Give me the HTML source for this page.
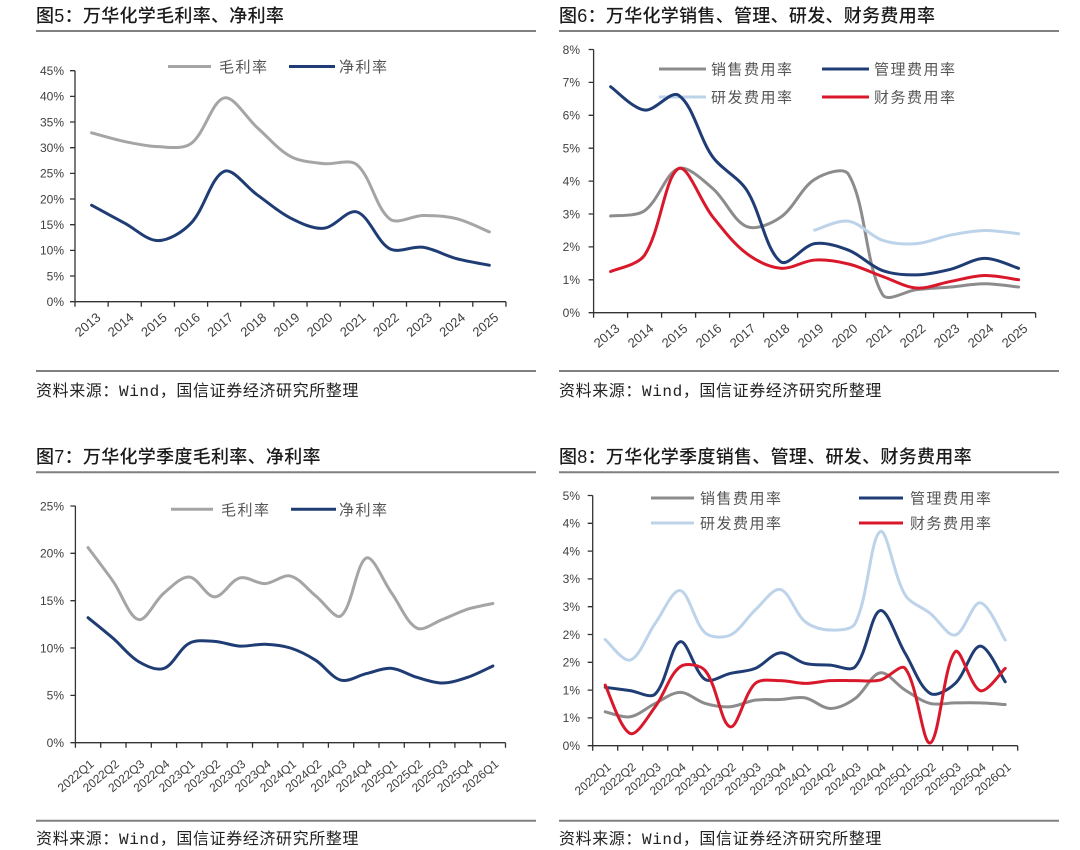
<!DOCTYPE html>
<html>
<head>
<meta charset="utf-8">
<style>
html,body{margin:0;padding:0;background:#fff;}
svg{display:block;}
.t{font-family:"Liberation Sans","Noto Sans CJK SC",sans-serif;font-size:18px;font-weight:500;fill:#1a1a1a;letter-spacing:0.3px;}
.src{font-family:"Liberation Sans","Noto Sans CJK SC",sans-serif;font-size:16px;fill:#222;letter-spacing:0.6px;}
.yl{font-family:"Liberation Sans",sans-serif;font-size:12px;fill:#404040;text-anchor:end;}
.xl{font-family:"Liberation Sans",sans-serif;font-size:13px;fill:#404040;text-anchor:end;}
.xq{font-family:"Liberation Sans",sans-serif;font-size:12px;fill:#404040;text-anchor:end;}
.lg{font-family:"Liberation Sans","Noto Sans CJK SC",sans-serif;font-size:15px;fill:#555;letter-spacing:1.5px;}
.ax{stroke:#333;stroke-width:1.3;fill:none;}
.sep{stroke:#808080;stroke-width:2;}
.s{fill:none;stroke-width:3;stroke-linejoin:round;stroke-linecap:round;}
</style>
</head>
<body>
<svg width="1080" height="850" viewBox="0 0 1080 850" xmlns="http://www.w3.org/2000/svg">

<!-- ================= CHART 1 ================= -->
<text class="t" x="36" y="22">图5：万华化学毛利率、净利率</text>
<line class="sep" x1="36" y1="31" x2="536" y2="31"/>

<g>
<text class="yl" x="64" y="306">0%</text>
<text class="yl" x="64" y="280.3">5%</text>
<text class="yl" x="64" y="254.7">10%</text>
<text class="yl" x="64" y="229">15%</text>
<text class="yl" x="64" y="203.3">20%</text>
<text class="yl" x="64" y="177.7">25%</text>
<text class="yl" x="64" y="152">30%</text>
<text class="yl" x="64" y="126.3">35%</text>
<text class="yl" x="64" y="100.7">40%</text>
<text class="yl" x="64" y="75">45%</text>
</g>
<path class="ax" d="M75,70.7V301.7H506 M70,301.7h5 M70,276h5 M70,250.4h5 M70,224.7h5 M70,199h5 M70,173.4h5 M70,147.7h5 M70,122h5 M70,96.4h5 M70,70.7h5
M75,301.7v5 M108.15,301.7v5 M141.3,301.7v5 M174.45,301.7v5 M207.6,301.7v5 M240.75,301.7v5 M273.9,301.7v5 M307.05,301.7v5 M340.2,301.7v5 M373.35,301.7v5 M406.5,301.7v5 M439.65,301.7v5 M472.8,301.7v5 M505.95,301.7v5"/>
<g>
<text class="xl" x="101.6" y="318.8" transform="rotate(-40 101.6 318.8)">2013</text>
<text class="xl" x="134.7" y="318.8" transform="rotate(-40 134.7 318.8)">2014</text>
<text class="xl" x="167.9" y="318.8" transform="rotate(-40 167.9 318.8)">2015</text>
<text class="xl" x="201" y="318.8" transform="rotate(-40 201 318.8)">2016</text>
<text class="xl" x="234.2" y="318.8" transform="rotate(-40 234.2 318.8)">2017</text>
<text class="xl" x="267.3" y="318.8" transform="rotate(-40 267.3 318.8)">2018</text>
<text class="xl" x="300.5" y="318.8" transform="rotate(-40 300.5 318.8)">2019</text>
<text class="xl" x="333.6" y="318.8" transform="rotate(-40 333.6 318.8)">2020</text>
<text class="xl" x="366.8" y="318.8" transform="rotate(-40 366.8 318.8)">2021</text>
<text class="xl" x="399.9" y="318.8" transform="rotate(-40 399.9 318.8)">2022</text>
<text class="xl" x="433.1" y="318.8" transform="rotate(-40 433.1 318.8)">2023</text>
<text class="xl" x="466.2" y="318.8" transform="rotate(-40 466.2 318.8)">2024</text>
<text class="xl" x="499.4" y="318.8" transform="rotate(-40 499.4 318.8)">2025</text>
</g>
<line x1="168" y1="66.5" x2="211" y2="66.5" stroke="#a5a5a5" stroke-width="3"/>
<text class="lg" x="219" y="72">毛利率</text>
<line x1="289" y1="66.5" x2="335" y2="66.5" stroke="#1f3d74" stroke-width="3"/>
<text class="lg" x="339" y="72">净利率</text>
<g transform="translate(75,301.7) scale(33.15,-5.133)">
<polyline class="s sm" vector-effect="non-scaling-stroke" stroke="#a5a5a5" points="0.5,32.9 1.5,31.2 2.5,30.2 3.5,30.8 4.5,39.7 5.5,33.9 6.5,28.3 7.5,26.9 8.5,26.7 9.5,16.1 10.5,16.8 11.5,16.2 12.5,13.6"/>
<polyline class="s sm" vector-effect="non-scaling-stroke" stroke="#1f3d74" points="0.5,18.8 1.5,15.3 2.5,11.9 3.5,15.3 4.5,25.4 5.5,20.8 6.5,16.3 7.5,14.3 8.5,17.5 9.5,10.3 10.5,10.6 11.5,8.4 12.5,7.1"/>
</g>
<line class="sep" x1="36" y1="371" x2="536" y2="371"/>
<text class="src" x="36" y="396">资料来源：<tspan font-family="Liberation Mono">Wind</tspan>，国信证券经济研究所整理</text>

<!-- ================= CHART 2 ================= -->
<text class="t" x="559" y="22">图6：万华化学销售、管理、研发、财务费用率</text>
<line class="sep" x1="559" y1="31" x2="1059" y2="31"/>
<g>
<text class="yl" x="580" y="317">0%</text>
<text class="yl" x="580" y="284.1">1%</text>
<text class="yl" x="580" y="251.2">2%</text>
<text class="yl" x="580" y="218.3">3%</text>
<text class="yl" x="580" y="185.4">4%</text>
<text class="yl" x="580" y="152.5">5%</text>
<text class="yl" x="580" y="119.6">6%</text>
<text class="yl" x="580" y="86.7">7%</text>
<text class="yl" x="580" y="53.8">8%</text>
</g>
<path class="ax" d="M593.6,49.5V312.7H1035.6 M588.6,312.7h5 M588.6,279.8h5 M588.6,246.9h5 M588.6,214h5 M588.6,181.1h5 M588.6,148.2h5 M588.6,115.3h5 M588.6,82.4h5 M588.6,49.5h5
M593.6,312.7v5 M627.6,312.7v5 M661.6,312.7v5 M695.6,312.7v5 M729.6,312.7v5 M763.6,312.7v5 M797.6,312.7v5 M831.6,312.7v5 M865.6,312.7v5 M899.6,312.7v5 M933.6,312.7v5 M967.6,312.7v5 M1001.6,312.7v5 M1035.6,312.7v5"/>
<g>
<text class="xl" x="620.6" y="329.8" transform="rotate(-40 620.6 329.8)">2013</text>
<text class="xl" x="654.6" y="329.8" transform="rotate(-40 654.6 329.8)">2014</text>
<text class="xl" x="688.6" y="329.8" transform="rotate(-40 688.6 329.8)">2015</text>
<text class="xl" x="722.6" y="329.8" transform="rotate(-40 722.6 329.8)">2016</text>
<text class="xl" x="756.6" y="329.8" transform="rotate(-40 756.6 329.8)">2017</text>
<text class="xl" x="790.6" y="329.8" transform="rotate(-40 790.6 329.8)">2018</text>
<text class="xl" x="824.6" y="329.8" transform="rotate(-40 824.6 329.8)">2019</text>
<text class="xl" x="858.6" y="329.8" transform="rotate(-40 858.6 329.8)">2020</text>
<text class="xl" x="892.6" y="329.8" transform="rotate(-40 892.6 329.8)">2021</text>
<text class="xl" x="926.6" y="329.8" transform="rotate(-40 926.6 329.8)">2022</text>
<text class="xl" x="960.6" y="329.8" transform="rotate(-40 960.6 329.8)">2023</text>
<text class="xl" x="994.6" y="329.8" transform="rotate(-40 994.6 329.8)">2024</text>
<text class="xl" x="1028.6" y="329.8" transform="rotate(-40 1028.6 329.8)">2025</text>
</g>
<line x1="659" y1="69" x2="706" y2="69" stroke="#8c8c8c" stroke-width="3"/>
<text class="lg" x="711" y="74.5">销售费用率</text>
<line x1="822" y1="69" x2="869" y2="69" stroke="#1f3d74" stroke-width="3"/>
<text class="lg" x="874" y="74.5">管理费用率</text>
<line x1="659" y1="97" x2="706" y2="97" stroke="#bdd3ea" stroke-width="3"/>
<text class="lg" x="711" y="102.5">研发费用率</text>
<line x1="822" y1="97" x2="869" y2="97" stroke="#d9192b" stroke-width="3"/>
<text class="lg" x="874" y="102.5">财务费用率</text>
<g transform="translate(593.6,312.7) scale(34,-32.9)">
<polyline class="s sm" vector-effect="non-scaling-stroke" stroke="#8c8c8c" points="0.5,2.94 1.5,3.1 2.5,4.38 3.5,3.78 4.5,2.62 5.5,2.9 6.5,4.05 7.5,4.2 8.5,0.55 9.5,0.7 10.5,0.78 11.5,0.88 12.5,0.78"/>
<polyline class="s sm" vector-effect="non-scaling-stroke" stroke="#1f3d74" points="0.5,6.87 1.5,6.16 2.5,6.61 3.5,4.74 4.5,3.73 5.5,1.55 6.5,2.1 7.5,1.9 8.5,1.28 9.5,1.15 10.5,1.32 11.5,1.65 12.5,1.35"/>
<polyline class="s sm" vector-effect="non-scaling-stroke" stroke="#bdd3ea" points="6.5,2.51 7.5,2.78 8.5,2.2 9.5,2.1 10.5,2.36 11.5,2.5 12.5,2.4"/>
<polyline class="s sm" vector-effect="non-scaling-stroke" stroke="#d9192b" points="0.5,1.25 1.5,1.75 2.5,4.38 3.5,2.92 4.5,1.8 5.5,1.35 6.5,1.6 7.5,1.48 8.5,1.1 9.5,0.75 10.5,0.95 11.5,1.13 12.5,1.0"/>
</g>
<line class="sep" x1="559" y1="371" x2="1059" y2="371"/>
<text class="src" x="559" y="396">资料来源：<tspan font-family="Liberation Mono">Wind</tspan>，国信证券经济研究所整理</text>

<!-- ================= CHART 3 ================= -->
<text class="t" x="36" y="463">图7：万华化学季度毛利率、净利率</text>
<line class="sep" x1="36" y1="472.3" x2="536" y2="472.3"/>
<g>
<text class="yl" x="64" y="747">0%</text>
<text class="yl" x="64" y="699.7">5%</text>
<text class="yl" x="64" y="652.3">10%</text>
<text class="yl" x="64" y="605">15%</text>
<text class="yl" x="64" y="557.6">20%</text>
<text class="yl" x="64" y="510.3">25%</text>
</g>
<path class="ax" d="M75.4,506V742.7H505.5 M70.4,742.7h5 M70.4,695.4h5 M70.4,648h5 M70.4,600.7h5 M70.4,553.3h5 M70.4,506h5
M75.4,742.7v5 M100.7,742.7v5 M126,742.7v5 M151.3,742.7v5 M176.6,742.7v5 M201.9,742.7v5 M227.2,742.7v5 M252.5,742.7v5 M277.8,742.7v5 M303.1,742.7v5 M328.4,742.7v5 M353.7,742.7v5 M379,742.7v5 M404.3,742.7v5 M429.6,742.7v5 M454.9,742.7v5 M480.2,742.7v5 M505.5,742.7v5"/>
<g>
<text class="xq" x="94.6" y="765.3" transform="rotate(-40 94.6 765.3)">2022Q1</text>
<text class="xq" x="119.9" y="765.3" transform="rotate(-40 119.9 765.3)">2022Q2</text>
<text class="xq" x="145.2" y="765.3" transform="rotate(-40 145.2 765.3)">2022Q3</text>
<text class="xq" x="170.5" y="765.3" transform="rotate(-40 170.5 765.3)">2022Q4</text>
<text class="xq" x="195.8" y="765.3" transform="rotate(-40 195.8 765.3)">2023Q1</text>
<text class="xq" x="221.1" y="765.3" transform="rotate(-40 221.1 765.3)">2023Q2</text>
<text class="xq" x="246.4" y="765.3" transform="rotate(-40 246.4 765.3)">2023Q3</text>
<text class="xq" x="271.7" y="765.3" transform="rotate(-40 271.7 765.3)">2023Q4</text>
<text class="xq" x="297" y="765.3" transform="rotate(-40 297 765.3)">2024Q1</text>
<text class="xq" x="322.3" y="765.3" transform="rotate(-40 322.3 765.3)">2024Q2</text>
<text class="xq" x="347.6" y="765.3" transform="rotate(-40 347.6 765.3)">2024Q3</text>
<text class="xq" x="372.9" y="765.3" transform="rotate(-40 372.9 765.3)">2024Q4</text>
<text class="xq" x="398.2" y="765.3" transform="rotate(-40 398.2 765.3)">2025Q1</text>
<text class="xq" x="423.5" y="765.3" transform="rotate(-40 423.5 765.3)">2025Q2</text>
<text class="xq" x="448.8" y="765.3" transform="rotate(-40 448.8 765.3)">2025Q3</text>
<text class="xq" x="474.1" y="765.3" transform="rotate(-40 474.1 765.3)">2025Q4</text>
<text class="xq" x="499.4" y="765.3" transform="rotate(-40 499.4 765.3)">2026Q1</text>
</g>
<line x1="171" y1="509.3" x2="213" y2="509.3" stroke="#a5a5a5" stroke-width="3"/>
<text class="lg" x="221" y="514.8">毛利率</text>
<line x1="291" y1="509.3" x2="336" y2="509.3" stroke="#1f3d74" stroke-width="3"/>
<text class="lg" x="339" y="514.8">净利率</text>
<g transform="translate(75.4,742.7) scale(25.3,-9.47)">
<polyline class="s sm" vector-effect="non-scaling-stroke" stroke="#a5a5a5" points="0.5,20.6 1.5,17.0 2.5,13.0 3.5,15.8 4.5,17.5 5.5,15.4 6.5,17.4 7.5,16.8 8.5,17.6 9.5,15.5 10.5,13.4 11.5,19.5 12.5,15.8 13.5,12.1 14.5,13.0 15.5,14.1 16.5,14.7"/>
<polyline class="s sm" vector-effect="non-scaling-stroke" stroke="#1f3d74" points="0.5,13.2 1.5,11.0 2.5,8.56 3.5,7.85 4.5,10.5 5.5,10.7 6.5,10.2 7.5,10.4 8.5,10.0 9.5,8.7 10.5,6.6 11.5,7.3 12.5,7.85 13.5,6.9 14.5,6.3 15.5,6.9 16.5,8.1"/>
</g>
<line class="sep" x1="36" y1="820.7" x2="536" y2="820.7"/>
<text class="src" x="36" y="844">资料来源：<tspan font-family="Liberation Mono">Wind</tspan>，国信证券经济研究所整理</text>

<!-- ================= CHART 4 ================= -->
<text class="t" x="559" y="463">图8：万华化学季度销售、管理、研发、财务费用率</text>
<line class="sep" x1="559" y1="472.3" x2="1059" y2="472.3"/>
<g>
<text class="yl" x="580" y="750">0%</text>
<text class="yl" x="580" y="722.2">1%</text>
<text class="yl" x="580" y="694.4">1%</text>
<text class="yl" x="580" y="666.6">2%</text>
<text class="yl" x="580" y="638.8">2%</text>
<text class="yl" x="580" y="611">3%</text>
<text class="yl" x="580" y="583.2">3%</text>
<text class="yl" x="580" y="555.4">4%</text>
<text class="yl" x="580" y="527.6">4%</text>
<text class="yl" x="580" y="499.8">5%</text>
</g>
<path class="ax" d="M592.7,495.5V745.7H1017.7 M587.7,745.7h5 M587.7,717.9h5 M587.7,690.1h5 M587.7,662.3h5 M587.7,634.5h5 M587.7,606.7h5 M587.7,578.9h5 M587.7,551.1h5 M587.7,523.3h5 M587.7,495.5h5
M592.7,745.7v5 M617.7,745.7v5 M642.7,745.7v5 M667.7,745.7v5 M692.7,745.7v5 M717.7,745.7v5 M742.7,745.7v5 M767.7,745.7v5 M792.7,745.7v5 M817.7,745.7v5 M842.7,745.7v5 M867.7,745.7v5 M892.7,745.7v5 M917.7,745.7v5 M942.7,745.7v5 M967.7,745.7v5 M992.7,745.7v5 M1017.7,745.7v5"/>
<g>
<text class="xq" x="611.7" y="768.3" transform="rotate(-40 611.7 768.3)">2022Q1</text>
<text class="xq" x="636.7" y="768.3" transform="rotate(-40 636.7 768.3)">2022Q2</text>
<text class="xq" x="661.7" y="768.3" transform="rotate(-40 661.7 768.3)">2022Q3</text>
<text class="xq" x="686.7" y="768.3" transform="rotate(-40 686.7 768.3)">2022Q4</text>
<text class="xq" x="711.7" y="768.3" transform="rotate(-40 711.7 768.3)">2023Q1</text>
<text class="xq" x="736.7" y="768.3" transform="rotate(-40 736.7 768.3)">2023Q2</text>
<text class="xq" x="761.7" y="768.3" transform="rotate(-40 761.7 768.3)">2023Q3</text>
<text class="xq" x="786.7" y="768.3" transform="rotate(-40 786.7 768.3)">2023Q4</text>
<text class="xq" x="811.7" y="768.3" transform="rotate(-40 811.7 768.3)">2024Q1</text>
<text class="xq" x="836.7" y="768.3" transform="rotate(-40 836.7 768.3)">2024Q2</text>
<text class="xq" x="861.7" y="768.3" transform="rotate(-40 861.7 768.3)">2024Q3</text>
<text class="xq" x="886.7" y="768.3" transform="rotate(-40 886.7 768.3)">2024Q4</text>
<text class="xq" x="911.7" y="768.3" transform="rotate(-40 911.7 768.3)">2025Q1</text>
<text class="xq" x="936.7" y="768.3" transform="rotate(-40 936.7 768.3)">2025Q2</text>
<text class="xq" x="961.7" y="768.3" transform="rotate(-40 961.7 768.3)">2025Q3</text>
<text class="xq" x="986.7" y="768.3" transform="rotate(-40 986.7 768.3)">2025Q4</text>
<text class="xq" x="1011.7" y="768.3" transform="rotate(-40 1011.7 768.3)">2026Q1</text>
</g>
<line x1="651" y1="498" x2="694" y2="498" stroke="#8c8c8c" stroke-width="3"/>
<text class="lg" x="700" y="503.5">销售费用率</text>
<line x1="859" y1="498" x2="903" y2="498" stroke="#1f3d74" stroke-width="3"/>
<text class="lg" x="910" y="503.5">管理费用率</text>
<line x1="651" y1="523" x2="694" y2="523" stroke="#bdd3ea" stroke-width="3"/>
<text class="lg" x="700" y="528.5">研发费用率</text>
<line x1="859" y1="523" x2="903" y2="523" stroke="#d9192b" stroke-width="3"/>
<text class="lg" x="910" y="528.5">财务费用率</text>
<g transform="translate(592.7,745.7) scale(25,-55.6)">
<polyline class="s sm" vector-effect="non-scaling-stroke" stroke="#8c8c8c" points="0.5,0.61 1.5,0.52 2.5,0.76 3.5,0.96 4.5,0.76 5.5,0.70 6.5,0.82 7.5,0.83 8.5,0.86 9.5,0.67 10.5,0.85 11.5,1.31 12.5,1.0 13.5,0.76 14.5,0.77 15.5,0.77 16.5,0.74"/>
<polyline class="s sm" vector-effect="non-scaling-stroke" stroke="#1f3d74" points="0.5,1.05 1.5,0.99 2.5,0.93 3.5,1.87 4.5,1.19 5.5,1.30 6.5,1.39 7.5,1.67 8.5,1.48 9.5,1.45 10.5,1.42 11.5,2.43 12.5,1.66 13.5,0.94 14.5,1.12 15.5,1.79 16.5,1.15"/>
<polyline class="s sm" vector-effect="non-scaling-stroke" stroke="#bdd3ea" points="0.5,1.91 1.5,1.54 2.5,2.2 3.5,2.79 4.5,2.03 5.5,1.99 6.5,2.44 7.5,2.81 8.5,2.23 9.5,2.08 10.5,2.2 11.5,3.85 12.5,2.71 13.5,2.38 14.5,1.99 15.5,2.57 16.5,1.90"/>
<polyline class="s sm" vector-effect="non-scaling-stroke" stroke="#d9192b" points="0.5,1.09 1.5,0.22 2.5,0.70 3.5,1.42 4.5,1.35 5.5,0.34 6.5,1.12 7.5,1.17 8.5,1.12 9.5,1.17 10.5,1.17 11.5,1.18 12.5,1.39 13.5,0.05 14.5,1.69 15.5,0.99 16.5,1.39"/>
</g>
<line class="sep" x1="559" y1="820.7" x2="1059" y2="820.7"/>
<text class="src" x="559" y="844">资料来源：<tspan font-family="Liberation Mono">Wind</tspan>，国信证券经济研究所整理</text>
</svg>

<script>
(function(){
  var NS='http://www.w3.org/2000/svg';
  var pls=document.querySelectorAll('polyline.sm');
  for(var k=0;k<pls.length;k++){
    var pl=pls[k];
    var tr=pl.parentNode.getAttribute('transform')||'';
    var m=/scale\(\s*([-\d.]+)\s*,\s*([-\d.]+)\s*\)/.exec(tr);
    var sx=m?Math.abs(+m[1]):1, sy=m?Math.abs(+m[2]):1;
    var pts=pl.getAttribute('points').trim().split(/\s+/).map(function(p){return p.split(',').map(Number);});
    var n=pts.length;
    var dl=[];
    for(var i=0;i<n-1;i++){
      dl[i]=Math.sqrt(Math.pow((pts[i+1][0]-pts[i][0])*sx,2)+Math.pow((pts[i+1][1]-pts[i][1])*sy,2));
    }
    var d='M'+pts[0][0]+','+pts[0][1];
    for(var i=0;i<n-1;i++){
      var P1=pts[i],P2=pts[i+1],c1x,c1y,c2x,c2y;
      if(i===0){
        c1x=P1[0]+(P2[0]-P1[0])/6; c1y=P1[1]+(P2[1]-P1[1])/6;
      } else {
        var P0=pts[i-1], s=dl[i-1]+dl[i], f=s>0?(dl[i]/s)/3:1/6;
        c1x=P1[0]+(P2[0]-P0[0])*f; c1y=P1[1]+(P2[1]-P0[1])*f;
      }
      if(i+1===n-1){
        c2x=P2[0]-(P2[0]-P1[0])/6; c2y=P2[1]-(P2[1]-P1[1])/6;
      } else {
        var P3=pts[i+2], s2=dl[i]+dl[i+1], g=s2>0?(dl[i]/s2)/3:1/6;
        c2x=P2[0]-(P3[0]-P1[0])*g; c2y=P2[1]-(P3[1]-P1[1])*g;
      }
      d+=' C'+c1x+','+c1y+' '+c2x+','+c2y+' '+P2[0]+','+P2[1];
    }
    var path=document.createElementNS(NS,'path');
    for(var j=0;j<pl.attributes.length;j++){
      var a=pl.attributes[j];
      if(a.name!=='points'&&a.name!=='class') path.setAttribute(a.name,a.value);
    }
    path.setAttribute('class','s');
    path.setAttribute('d',d);
    pl.parentNode.replaceChild(path,pl);
  }
})();
</script>
</body>
</html>
